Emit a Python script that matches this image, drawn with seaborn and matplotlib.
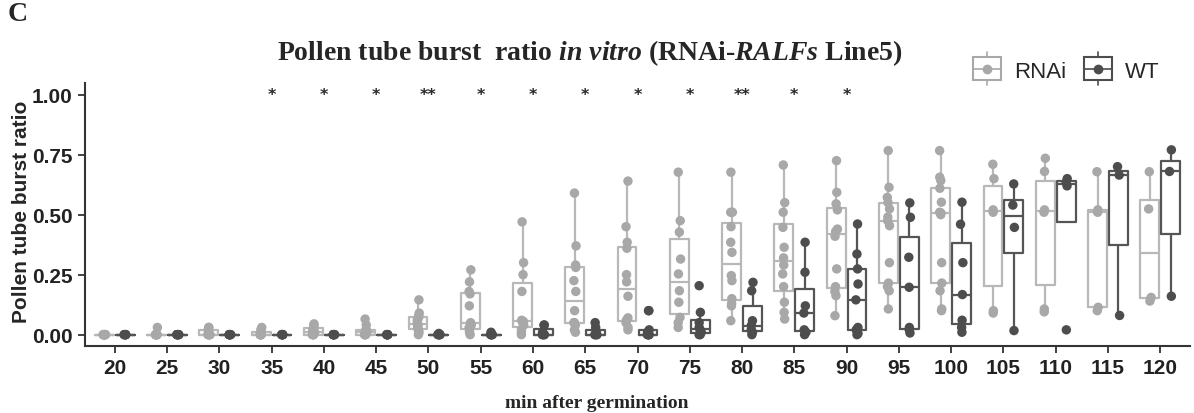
import numpy as np
import pandas as pd
import seaborn as sns
import matplotlib.pyplot as plt
from matplotlib.lines import Line2D
from matplotlib.patches import Rectangle
from matplotlib.legend_handler import HandlerBase

# minutes after germination
times = [20, 25, 30, 35, 40, 45, 50, 55, 60, 65, 70,
         75, 80, 85, 90, 95, 100, 105, 110, 115, 120]

# burst ratio per tube sample, RNAi line
rnai_ratio = [
    [0, 0, 0, 0, 0, 0, 0, 0, 0, 0],
    [0, 0, 0, 0, 0, 0, 0, 0, 0, 0.03],
    [0, 0, 0, 0, 0, 0, 0.01, 0.02, 0.03, 0.03],
    [0, 0, 0, 0, 0, 0, 0.01, 0.02, 0.03],
    [0, 0, 0, 0, 0.01, 0.01, 0.02, 0.03, 0.04, 0.045],
    [0, 0, 0, 0, 0.01, 0.02, 0.02, 0.04, 0.065],
    [0, 0.01, 0.02, 0.03, 0.04, 0.045, 0.06, 0.07, 0.08, 0.09, 0.145],
    [0, 0.01, 0.02, 0.03, 0.04, 0.05, 0.12, 0.17, 0.18, 0.22, 0.27],
    [0, 0.01, 0.02, 0.04, 0.05, 0.055, 0.06, 0.18, 0.25, 0.30, 0.47],
    [0.01, 0.02, 0.04, 0.05, 0.05, 0.10, 0.18, 0.225, 0.28, 0.29, 0.37, 0.59],
    [0.02, 0.03, 0.05, 0.06, 0.07, 0.16, 0.22, 0.25, 0.36, 0.385, 0.45, 0.64],
    [0.03, 0.05, 0.072, 0.135, 0.183, 0.253, 0.315, 0.427, 0.475, 0.677],
    [0.058, 0.12, 0.13, 0.15, 0.225, 0.246, 0.343, 0.385, 0.45, 0.51, 0.51, 0.677],
    [0.065, 0.093, 0.135, 0.20, 0.253, 0.29, 0.32, 0.364, 0.447, 0.51, 0.55, 0.707],
    [0.079, 0.1625, 0.18, 0.20, 0.274, 0.41, 0.43, 0.44, 0.52, 0.545, 0.593, 0.725],
    [0.107, 0.183, 0.20, 0.215, 0.30, 0.454, 0.475, 0.49, 0.524, 0.55, 0.572, 0.614, 0.767],
    [0.10, 0.107, 0.183, 0.215, 0.30, 0.50, 0.507, 0.51, 0.552, 0.61, 0.642, 0.656, 0.767],
    [0.09, 0.10, 0.51, 0.52, 0.65, 0.71],
    [0.095, 0.107, 0.51, 0.52, 0.68, 0.735],
    [0.10, 0.114, 0.51, 0.52, 0.679],
    [0.14, 0.155, 0.524, 0.679],
]

# burst ratio per tube sample, wild type
wt_ratio = [
    [0, 0, 0, 0, 0, 0],
    [0, 0, 0, 0, 0, 0],
    [0, 0, 0, 0, 0, 0],
    [0, 0, 0, 0, 0, 0],
    [0, 0, 0, 0, 0, 0],
    [0, 0, 0, 0, 0, 0],
    [0, 0, 0, 0, 0, 0.005],
    [0, 0, 0, 0, 0, 0.01],
    [0, 0, 0, 0, 0.01, 0.04, 0.04],
    [0, 0, 0, 0, 0.01, 0.03, 0.05],
    [0, 0, 0, 0, 0, 0.01, 0.02, 0.1, 0.1],
    [0, 0, 0.01, 0.02, 0.03, 0.05, 0.093, 0.204],
    [0, 0.01, 0.02, 0.038, 0.058, 0.183, 0.218],
    [0, 0.01, 0.02, 0.09, 0.12, 0.26, 0.385],
    [0, 0.005, 0.02, 0.03, 0.145, 0.211, 0.274, 0.336, 0.461],
    [0.007, 0.02, 0.03, 0.1975, 0.3225, 0.489, 0.549],
    [0.01, 0.03, 0.06, 0.167, 0.30, 0.46, 0.552],
    [0.017, 0.447, 0.54, 0.628],
    [0.02, 0.62, 0.635, 0.65],
    [0.08, 0.665, 0.70],
    [0.16, 0.68, 0.77],
]

# significance marks drawn at y = 1.00
signif = ['', '', '', '*', '*', '*', '**', '*', '*', '*', '*',
          '*', '**', '*', '*', '', '', '', '', '', '']

lines = ['RNAi', 'WT']

# long table for seaborn
rows = []
for t, r, w in zip(times, rnai_ratio, wt_ratio):
    rows += [(str(t), 'RNAi', v) for v in r]
    rows += [(str(t), 'WT', v) for v in w]
df = pd.DataFrame(rows, columns=['time', 'line', 'ratio'])
order = [str(t) for t in times]

sns.set_style('ticks')
plt.rcParams['font.family'] = ['Liberation Sans Narrow', 'Liberation Sans', 'DejaVu Sans']
plt.rcParams['mathtext.fontset'] = 'custom'
plt.rcParams['mathtext.it'] = 'Liberation Serif:italic:bold'
plt.rcParams['mathtext.rm'] = 'Liberation Serif:bold'

box_pal = {'RNAi': '#b8b8b8', 'WT': '#555555'}
pt_pal = {'RNAi': '#a8a8a8', 'WT': '#4d4d4d'}

fig = plt.figure(figsize=(11.94, 4.14), dpi=100)
ax = fig.add_axes([0.0712, 0.1626, 0.9255, 0.6353])

sns.boxplot(data=df, x='time', y='ratio', hue='line', order=order,
            hue_order=lines, palette=box_pal, fill=False, width=0.8, gap=0.1,
            showfliers=False, linewidth=1.6, capprops={'linewidth': 0},
            legend=False, ax=ax)
np.random.seed(3)
sns.stripplot(data=df, x='time', y='ratio', hue='line', order=order,
              hue_order=lines, palette=pt_pal, dodge=True, jitter=0.05,
              size=6.8, linewidth=0, legend=False, ax=ax)

for i, s in enumerate(signif):
    if s:
        ax.text(i, 1.0, s, ha='center', va='center', fontsize=11.5,
                color='#2a2a2a', family='DejaVu Sans', fontweight='bold')

ax.set_xlim(-0.57, len(times) - 0.43)
ax.set_ylim(-0.046, 1.05)
ax.set_yticks([0, 0.25, 0.5, 0.75, 1.0])
ax.set_yticklabels(['0.00', '0.25', '0.50', '0.75', '1.00'])
ax.set_xlabel('')
ax.set_ylabel('')
sns.despine(ax=ax)
for sp in ['left', 'bottom']:
    ax.spines[sp].set_linewidth(1.5)
    ax.spines[sp].set_color('#333333')
ax.tick_params(axis='both', length=5, width=1.3, color='#333333',
               labelsize=15, labelcolor='#222222', pad=4)
for lab in ax.get_xticklabels() + ax.get_yticklabels():
    lab.set_fontweight('bold')


class BoxHandler(HandlerBase):
    def create_artists(self, legend, orig_handle, xdescent, ydescent,
                       width, height, fontsize, trans):
        c = orig_handle.get_color()
        x0, x1 = -xdescent, -xdescent + width
        y0, y1 = -ydescent - 0.25 * height, -ydescent + 1.25 * height
        ym = -ydescent + 0.5 * height
        xm = (x0 + x1) / 2
        wl = Line2D([xm, xm], [y0 - 0.3 * height, y1 + 0.3 * height],
                    color=c, lw=1.2, transform=trans)
        rect = Rectangle((x0, y0), width, y1 - y0, facecolor='white',
                         edgecolor=c, lw=1.5, transform=trans)
        med = Line2D([x0, x1], [ym, ym], color=c, lw=1.2, transform=trans)
        dot = Line2D([xm], [ym], marker='o', ms=6, color=c, ls='', transform=trans)
        return [wl, rect, med, dot]


handles = [Line2D([], [], color=pt_pal[k]) for k in lines]
fig.legend(handles, lines, handler_map={Line2D: BoxHandler()},
           loc='center right', bbox_to_anchor=(1180 / 1194, 1 - 72 / 414),
           ncol=2, frameon=False, fontsize=16, handlelength=1.25,
           handletextpad=0.6, columnspacing=0.8)

fig.text(590 / 1194, 1 - 60 / 414,
         r'Pollen tube burst  ratio $in\ vitro$ (RNAi-$RALFs$ Line5)',
         ha='center', va='baseline', fontsize=20, fontweight='bold',
         family='Liberation Serif')
fig.text(597 / 1194, 1 - 408 / 414, 'min after germination', ha='center',
         va='baseline', fontsize=14, fontweight='bold', family='Liberation Serif')
fig.text(22 / 1194, 1 - 212 / 414, 'Pollen tube burst ratio', rotation=90,
         ha='center', va='center', fontsize=15, fontweight='bold',
         family='Liberation Sans')
fig.text(8 / 1194, 1 - 21 / 414, 'C', ha='left', va='baseline', fontsize=20,
         fontweight='bold', family='Liberation Serif')

fig.savefig('out.png', dpi=100)
